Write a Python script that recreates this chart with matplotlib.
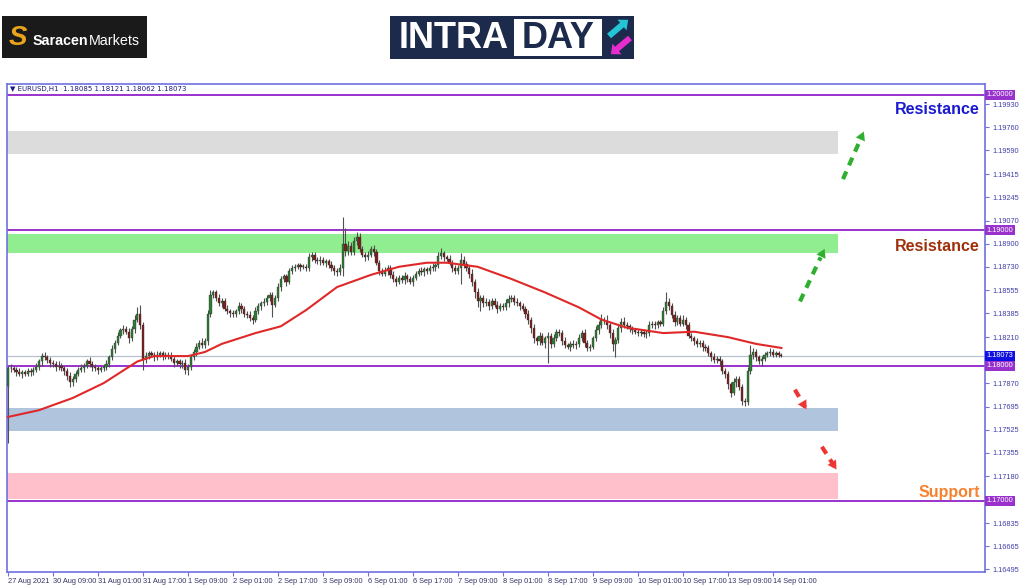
import numpy as np
import matplotlib.pyplot as plt
from matplotlib.patches import Rectangle, FancyArrow
from matplotlib.transforms import blended_transform_factory

plt.rcParams['font.family'] = ['Liberation Sans', 'DejaVu Sans']

# EURUSD H1 candles, prices in pips away from 1.18000
first_open = -15
closes = [
    -2, -2, -3, -5, -6, -5, -6, -4, -5, -3, -1, 3, 7, 6, 4, 2,
    1, -1, 0, -2, -4, -8, -12, -10, -6, -3, -2, 0, 3, 1, -1, -2,
    -3, -2, -1, 1, 6, 12, 17, 22, 26, 27, 25, 20, 27, 34, 38, 30,
    5, 7, 9, 8, 6, 8, 9, 7, 8, 7, 5, 2, 3, 1, 2, -3,
    -1, 6, 10, 14, 17, 15, 18, 38, 52, 54, 50, 46, 48, 42, 40, 39,
    38, 40, 44, 42, 38, 37, 35, 34, 40, 44, 46, 47, 50, 52, 45, 50,
    58, 64, 66, 62, 70, 72, 73, 74, 73, 73, 72, 80, 82, 78, 77, 78,
    76, 77, 74, 72, 70, 69, 72, 90, 85, 88, 84, 92, 95, 86, 82, 80,
    82, 86, 84, 76, 70, 68, 70, 72, 67, 64, 62, 65, 63, 66, 64, 62,
    65, 68, 70, 69, 71, 70, 72, 73, 74, 81, 83, 80, 79, 76, 72, 70,
    72, 78, 75, 72, 68, 62, 54, 48, 50, 46, 47, 44, 48, 45, 42, 44,
    43, 46, 49, 50, 47, 46, 44, 42, 38, 34, 28, 20, 18, 22, 17, 20,
    22, 16, 20, 25, 24, 18, 15, 14, 16, 15, 16, 20, 24, 17, 13, 14,
    20, 26, 30, 34, 33, 30, 24, 16, 19, 28, 32, 30, 29, 27, 26, 25,
    24, 25, 23, 24, 30, 31, 30, 32, 31, 40, 47, 44, 37, 32, 35, 31,
    34, 30, 22, 20, 18, 16, 17, 14, 13, 9, 6, 4, 5, 3, -4, -6,
    -14, -20, -12, -10, -16, -26, -27, -4, 8, 10, 6, 3, 5, 8, 9, 10,
    8, 9, 8, 7.3,
]
wick_up = [
    2, 3, 2, 2, 3, 2, 2, 2, 2, 2, 3, 2, 2, 3, 2, 2,
    2, 2, 3, 2, 2, 2, 3, 2, 2, 2, 3, 2, 2, 3, 2, 2,
    2, 2, 2, 3, 2, 3, 2, 3, 2, 3, 2, 3, 2, 3, 5, 7,
    2, 3, 2, 2, 2, 3, 2, 2, 2, 2, 3, 2, 2, 2, 2, 3,
    2, 2, 2, 3, 2, 3, 2, 3, 4, 2, 2, 3, 2, 2, 3, 2,
    2, 2, 3, 2, 2, 2, 3, 2, 3, 2, 2, 3, 2, 2, 2, 2,
    3, 2, 2, 2, 2, 2, 2, 2, 2, 2, 2, 3, 2, 2, 2, 3,
    2, 2, 2, 3, 2, 2, 3, 20, 12, 4, 3, 3, 4, 3, 2, 2,
    3, 2, 3, 2, 2, 2, 3, 2, 2, 3, 2, 2, 2, 3, 2, 2,
    2, 2, 2, 3, 2, 2, 2, 3, 2, 3, 4, 2, 2, 3, 2, 2,
    2, 5, 3, 2, 2, 3, 2, 3, 2, 2, 3, 2, 2, 2, 3, 2,
    2, 3, 3, 2, 2, 3, 2, 2, 2, 3, 2, 3, 2, 3, 2, 2,
    3, 2, 3, 2, 2, 2, 3, 2, 2, 3, 2, 3, 2, 3, 2, 2,
    2, 3, 3, 4, 2, 4, 2, 3, 2, 3, 3, 4, 2, 2, 2, 2,
    2, 2, 2, 2, 3, 2, 2, 2, 2, 3, 7, 3, 2, 3, 2, 2,
    3, 2, 2, 2, 2, 2, 2, 2, 2, 2, 2, 3, 2, 2, 2, 2,
    2, 2, 3, 2, 2, 2, 2, 3, 7, 3, 2, 2, 2, 2, 2, 3,
    2, 2, 2, 1,
]
wick_dn = [
    42, 3, 2, 3, 2, 3, 2, 2, 3, 2, 2, 2, 3, 2, 2, 3,
    2, 3, 2, 2, 3, 3, 4, 3, 2, 2, 2, 3, 2, 2, 3, 2,
    3, 2, 2, 2, 2, 2, 3, 2, 2, 3, 2, 3, 2, 3, 2, 3,
    8, 3, 2, 2, 3, 2, 2, 3, 2, 2, 2, 3, 2, 3, 3, 3,
    4, 2, 2, 3, 2, 2, 2, 3, 2, 2, 2, 2, 3, 2, 2, 3,
    2, 2, 2, 3, 2, 2, 2, 3, 2, 2, 3, 2, 2, 2, 9, 2,
    2, 3, 2, 3, 2, 2, 2, 2, 3, 2, 2, 2, 3, 2, 2, 3,
    2, 3, 2, 2, 3, 3, 2, 6, 4, 3, 2, 2, 3, 2, 2, 3,
    2, 2, 3, 2, 3, 2, 2, 3, 2, 2, 3, 2, 2, 3, 2, 2,
    3, 2, 2, 2, 3, 2, 2, 2, 3, 2, 2, 3, 2, 2, 3, 2,
    2, 12, 3, 2, 3, 3, 4, 5, 8, 3, 2, 3, 2, 2, 3, 2,
    2, 2, 3, 2, 2, 2, 3, 2, 3, 3, 4, 3, 3, 3, 2, 4,
    18, 3, 2, 2, 2, 3, 2, 2, 3, 2, 3, 2, 2, 3, 2, 2,
    2, 2, 3, 2, 2, 3, 4, 5, 10, 2, 3, 2, 2, 2, 3, 2,
    2, 2, 2, 3, 2, 2, 3, 2, 2, 2, 2, 3, 2, 3, 2, 2,
    2, 3, 2, 2, 3, 2, 2, 3, 2, 2, 3, 2, 2, 3, 2, 3,
    3, 3, 2, 4, 2, 3, 3, 2, 2, 3, 3, 2, 3, 2, 2, 2,
    2, 2, 2, 1,
]

# moving average (red line), read at a few bars
ma_bars = [0, 11, 23, 34, 40, 46, 52, 64, 70, 76, 88, 97, 106, 117, 129,
           139, 149, 156, 167, 179, 191, 203, 211, 220, 233, 244, 256, 266, 275]
ma_pips = [-38, -33, -24, -13, -5, 3, 7, 7, 10, 16, 24, 29, 41, 58, 67,
           73, 76, 76, 73, 64, 54, 43, 34, 28, 24, 25, 21, 16, 13]

date_labels = ["27 Aug 2021", "30 Aug 09:00", "31 Aug 01:00", "31 Aug 17:00",
               "1 Sep 09:00", "2 Sep 01:00", "2 Sep 17:00", "3 Sep 09:00",
               "6 Sep 01:00", "6 Sep 17:00", "7 Sep 09:00", "8 Sep 01:00",
               "8 Sep 17:00", "9 Sep 09:00", "10 Sep 01:00", "10 Sep 17:00",
               "13 Sep 09:00", "14 Sep 01:00"]
bars_per_label = 16

axis_prices = [1.19930, 1.19760, 1.19590, 1.19415, 1.19245, 1.19070,
               1.18900, 1.18730, 1.18555, 1.18385, 1.18210, 1.17870,
               1.17695, 1.17525, 1.17355, 1.17180, 1.16835, 1.16665, 1.16495]
level_prices = [1.20000, 1.19000, 1.18000, 1.17000]
last_price = 1.18073

# shaded zones: low, high, colour (they end at zone_end bar)
zone_lo = [1.19563, 1.18830, 1.17519, 1.17015]
zone_hi = [1.19733, 1.18970, 1.17689, 1.17207]
zone_colors = ['#dcdcdc', '#90ee90', '#b0c4de', '#ffc0cb']
zone_end = 295

labels = ["Resistance", "Resistance", "Support"]
label_prices = [1.19892, 1.18880, 1.17058]
label_colors = ['#1a1ad0', '#a0300c', '#f5822f']

# the dashed arrows: (bar, price) start and end
arrow_from = [(281.6, 1.18474), (296.9, 1.19378), (279.8, 1.17822), (289.4, 1.17400)]
arrow_to = [(290.8, 1.18881), (304.7, 1.19748), (284.4, 1.17659), (295.1, 1.17215)]
arrow_colors = ['#2fae2f', '#2fae2f', '#ee3535', '#ee3535']


def to_price(p):
    return 1.18 + np.asarray(p, dtype=float) / 10000.0


fig = plt.figure(figsize=(10.24, 5.87), dpi=100)
ax = fig.add_axes([6.6 / 1024, 1 - 572 / 587, 978.4 / 1024, 488 / 587], zorder=2)

frame = '#7070e0'
for s in ax.spines.values():
    s.set_color(frame)
    s.set_linewidth(1.2)

# zones
for lo, hi, c in zip(zone_lo, zone_hi, zone_colors):
    ax.add_patch(Rectangle((-0.5, lo), zone_end + 0.5, hi - lo, fc=c, ec='none', zorder=1))

# level lines
for lv in level_prices:
    ax.axhline(lv, color='#9932cc', lw=1.4, zorder=2)
ax.axhline(last_price, color='#b8c0d0', lw=0.9, zorder=2)

# candles
n = len(closes)
x = np.arange(n)
c = to_price(closes)
o = to_price([first_open] + closes[:-1])
top = np.maximum(o, c)
bot = np.minimum(o, c)
hi = top + np.array(wick_up) / 10000.0
lo = bot - np.array(wick_dn) / 10000.0
up = c >= o
ax.vlines(x, lo, hi, color='#505050', lw=0.8, zorder=3)
body_h = np.maximum(top - bot, 0.00004)
ax.bar(x, body_h, bottom=bot, width=0.78,
       color=np.where(up, '#2e7d32', '#7d1d1d'), edgecolor='#303030',
       linewidth=0.25, zorder=4)

# moving average
ax.plot(ma_bars, to_price(ma_pips), color='#e02828', lw=1.5, zorder=5)

# zone labels
for t, p, col in zip(labels, label_prices, label_colors):
    ax.text(0.995, p, t, transform=blended_transform_factory(ax.transAxes, ax.transData),
            ha='right', va='center', fontsize=11.5, fontweight='bold', color=col, zorder=6)

# dashed arrows
for (x0, y0), (x1, y1), col in zip(arrow_from, arrow_to, arrow_colors):
    ax.plot([x0, x0 + 0.8 * (x1 - x0)], [y0, y0 + 0.8 * (y1 - y0)],
            color=col, lw=3, ls=(0, (2, 1.6)), zorder=6, solid_capstyle='butt')
    ax.annotate('', xy=(x1, y1), xytext=(x0 + 0.7 * (x1 - x0), y0 + 0.7 * (y1 - y0)),
                arrowprops=dict(arrowstyle='-|>,head_length=0.6,head_width=0.35',
                                color=col, lw=0.1), zorder=6)

ax.set_xlim(-0.5, 347.4)
ax.set_ylim(1.16474, 1.20081)

# x axis
ax.set_xticks(np.arange(len(date_labels)) * bars_per_label)
ax.set_xticklabels(date_labels, ha='left')
ax.tick_params(axis='x', direction='out', length=3, width=0.8, color=frame,
               labelsize=5.3, labelcolor='#333366', pad=1)

# y axis on the right
ax.yaxis.tick_right()
ax.set_yticks(axis_prices)
ax.set_yticklabels([f"{p:.5f}" for p in axis_prices])
ax.tick_params(axis='y', direction='out', length=3, width=0.8, color=frame,
               labelsize=5.3, labelcolor='#4040a8', pad=2)

ytr = blended_transform_factory(ax.transAxes, ax.transData)
for lv in level_prices:
    ax.text(1.0015, lv, f"{lv:.5f}", transform=ytr, ha='left', va='center',
            fontsize=5.3, color='white', zorder=7, clip_on=False,
            bbox=dict(boxstyle='square,pad=0.2', fc='#9932cc', ec='none'))
ax.text(1.0015, last_price, f"{last_price:.5f}", transform=ytr, ha='left', va='center',
        fontsize=5.3, color='white', zorder=7, clip_on=False,
        bbox=dict(boxstyle='square,pad=0.2', fc='#1010e0', ec='none'))

# header line
ax.text(0.003, 0.989, "\u25bc EURUSD,H1  1.18085 1.18121 1.18062 1.18073",
        transform=ax.transAxes, ha='left', va='center', fontsize=5,
        color='#1a1a80', family=['DejaVu Sans'])

# logos, drawn in pixel units on a full-figure overlay
ov = fig.add_axes([0, 0, 1, 1], zorder=1)
ov.set_xlim(0, 1024)
ov.set_ylim(587, 0)
ov.axis('off')

ov.add_patch(Rectangle((2, 16), 145, 42, fc='#1a1a1a', ec='none'))
ov.text(18, 38, "S", ha='center', va='center', fontsize=20, fontweight='bold',
        style='italic', color='#e8a41c')
t1 = ov.text(33, 41, "Saracen", ha='left', va='center', fontsize=10.3,
             fontweight='bold', color='white')
fig.canvas.draw()
bb = t1.get_window_extent()
ov.text(bb.x1, 41, "Markets", ha='left', va='center', fontsize=10.3, color='white')

ov.add_patch(Rectangle((390, 16), 244, 43, fc='#1c2b4b', ec='none'))
ov.add_patch(Rectangle((514, 19), 88, 37, fc='white', ec='none'))
ov.text(454, 38, "INTRA", ha='center', va='center', fontsize=26, fontweight='bold', color='white')
ov.text(558, 38, "DAY", ha='center', va='center', fontsize=26, fontweight='bold', color='#1c2b4b')
ov.add_patch(FancyArrow(609, 36, 13, -11, width=6, head_width=14, head_length=8,
                        length_includes_head=False, fc='#22c4d6', ec='none'))
ov.add_patch(FancyArrow(630, 38, -13, 11, width=6, head_width=14, head_length=8,
                        length_includes_head=False, fc='#e62ccf', ec='none'))

fig.savefig("out.png", dpi=100, facecolor='white')
